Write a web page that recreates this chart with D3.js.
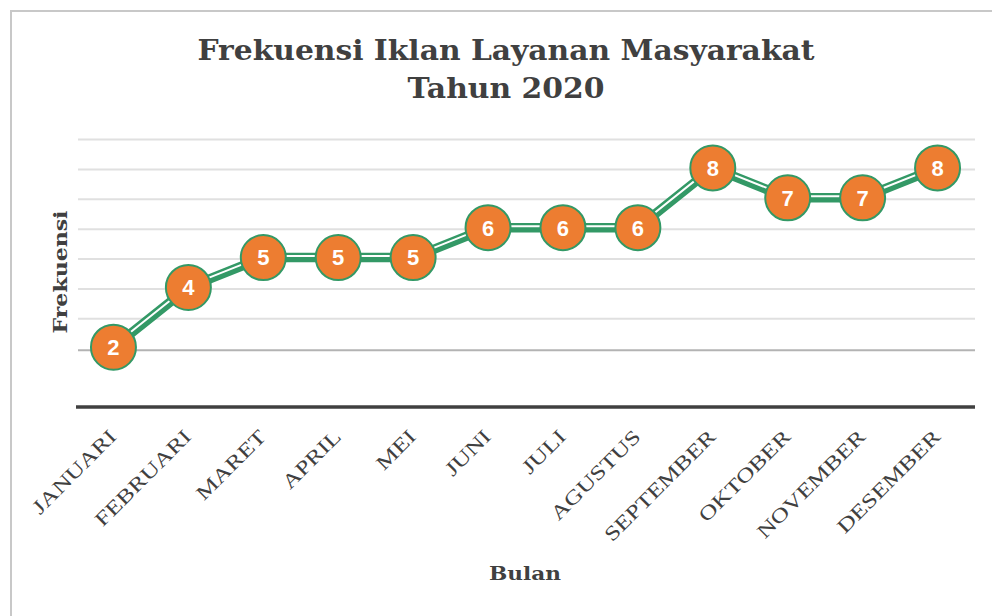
<!DOCTYPE html>
<html><head><meta charset="utf-8">
<script src="https://cdn.jsdelivr.net/npm/d3@7"></script>
<style>body{margin:0;background:#fff}svg{display:block}</style>
</head><body>
<svg id="c" width="992" height="616"></svg>
<script>
const months = ["JANUARI","FEBRUARI","MARET","APRIL","MEI","JUNI","JULI","AGUSTUS","SEPTEMBER","OKTOBER","NOVEMBER","DESEMBER"];
const values = [2,4,5,5,5,6,6,6,8,7,7,8];
const gridValues = [2,3,4,5,6,7,8,9];
const titleLines = ["Frekuensi Iklan Layanan Masyarakat","Tahun 2020"];
const xTitle = "Bulan", yTitle = "Frekuensi";

const svg = d3.select("#c");
const slab = "'DejaVu Serif', serif";
// frame
svg.append("path").attr("d","M11,616 V11 H992").attr("fill","none").attr("stroke","#c8c8c8").attr("stroke-width",2);

const x = d3.scaleBand().domain(months).range([76,975]);
const y = d3.scaleLinear().domain([0,9]).range([407,138]);

// gridlines
svg.append("g").selectAll("line").data(gridValues).join("line")
  .attr("x1",78).attr("x2",975)
  .attr("y1",d=>y(d)+ (d===2?3:1.5)).attr("y2",d=>y(d)+(d===2?3:1.5))
  .attr("stroke",d=>d===2?"#b3b3b3":"#e0e0e0").attr("stroke-width",2);

// x axis line
svg.append("line").attr("x1",76).attr("x2",975).attr("y1",407).attr("y2",407)
  .attr("stroke","#404040").attr("stroke-width",3.5);

// x tick labels
const xa = d3.axisBottom(x).tickSize(0).tickPadding(0);
const gx = svg.append("g").call(xa);
gx.select(".domain").remove();
gx.selectAll(".tick").attr("transform",d=>`translate(${x(d)+x.bandwidth()/2},0)`);
gx.selectAll("text")
  .attr("font-family","'Liberation Serif', serif").attr("font-size",20).attr("fill","#404040")
  .attr("text-anchor","end").attr("y",0).attr("dy",0)
  .attr("transform","translate(4,438) rotate(-45)")
  .each(function(){ const L=this.getComputedTextLength(); d3.select(this).attr("textLength",L*1.28).attr("lengthAdjust","spacingAndGlyphs"); });

// line
const cx = d => x(d.m)+x.bandwidth()/2;
const data = months.map((m,i)=>({m, v: values[i]}));
const line = d3.line().x(cx).y(d=>y(d.v));
svg.append("path").datum(data).attr("d",line).attr("fill","none")
  .attr("stroke","#339966").attr("stroke-width",9.5).attr("stroke-linejoin","round");
svg.append("path").datum(data).attr("d",line).attr("fill","none")
  .attr("transform","translate(0,-1.5)")
  .attr("stroke","#fff").attr("stroke-width",2).attr("stroke-linejoin","round");

// markers
const mk = svg.append("g").selectAll("g").data(data).join("g")
  .attr("transform",d=>`translate(${cx(d)},${y(d.v)})`);
mk.append("circle").attr("r",22.5).attr("fill","#ED7D31").attr("stroke","#339966").attr("stroke-width",2);
mk.append("text").text(d=>d.v).attr("text-anchor","middle").attr("dy","0.36em")
  .attr("font-family","'Liberation Sans', Arial, sans-serif").attr("font-weight","bold")
  .attr("font-size",22).attr("fill","#fff");

// titles
const t = svg.append("text").attr("text-anchor","middle").attr("fill","#404040")
  .attr("font-family",slab).attr("font-weight","bold").attr("font-size",28);
t.append("tspan").attr("x",506).attr("y",60).text(titleLines[0]).attr("textLength",617).attr("lengthAdjust","spacingAndGlyphs");
t.append("tspan").attr("x",506).attr("y",98).text(titleLines[1]).attr("textLength",197).attr("lengthAdjust","spacingAndGlyphs");

svg.append("text").attr("x",525).attr("y",580).attr("text-anchor","middle").attr("fill","#404040")
  .attr("font-family",slab).attr("font-weight","bold").attr("font-size",19).text(xTitle)
  .attr("textLength",72).attr("lengthAdjust","spacingAndGlyphs");
svg.append("text").attr("transform","translate(67,272) rotate(-90)").attr("text-anchor","middle").attr("fill","#404040")
  .attr("font-family",slab).attr("font-weight","bold").attr("font-size",19).text(yTitle)
  .attr("textLength",123).attr("lengthAdjust","spacingAndGlyphs");
</script>
</body></html>
